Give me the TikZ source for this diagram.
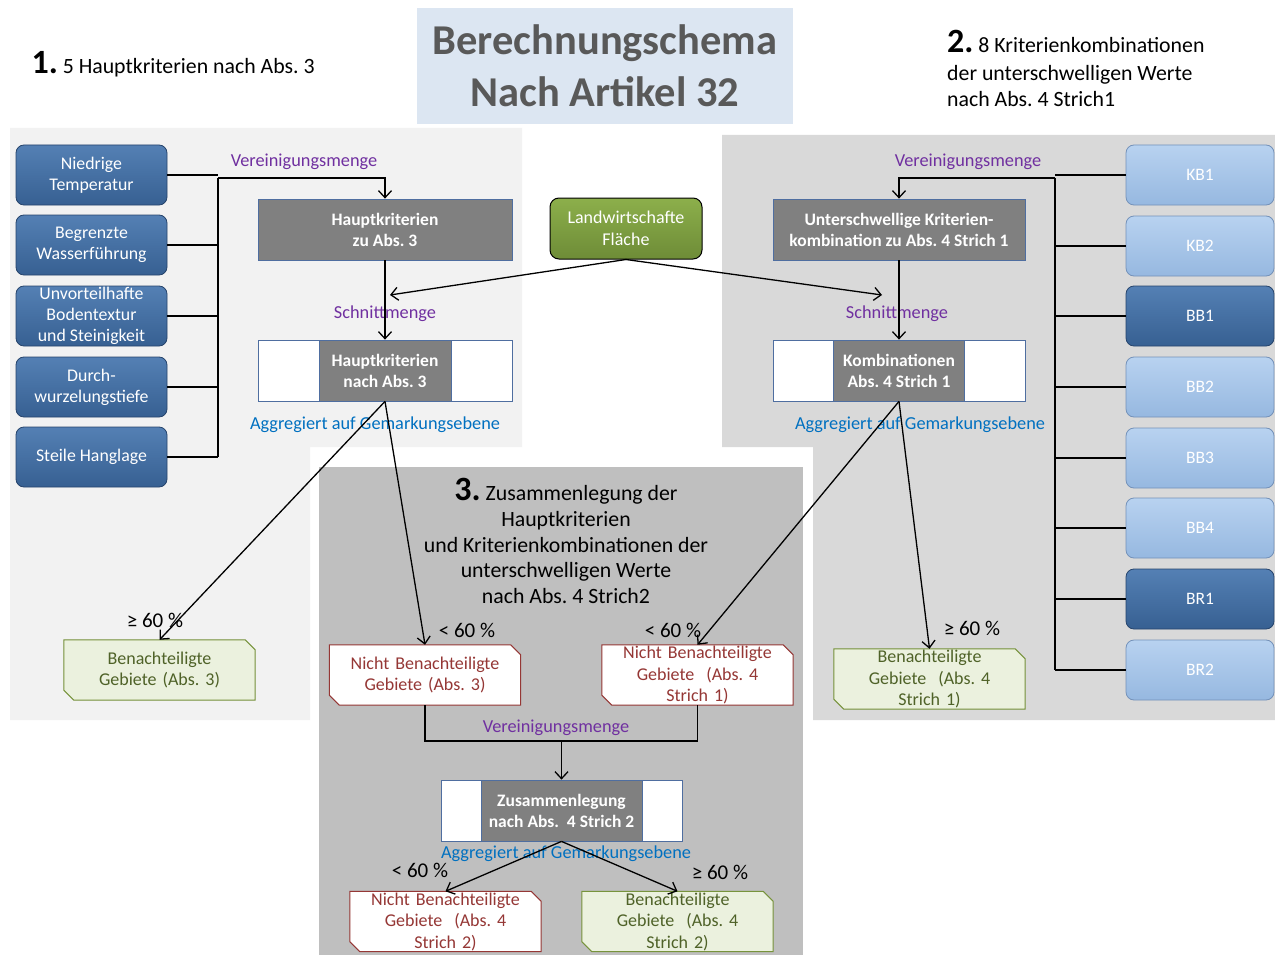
\documentclass[tikz,border=0pt]{standalone}
\usepackage{fontspec}
\setmainfont{Carlito}
\usetikzlibrary{arrows.meta,calc}
\pgfdeclarelayer{bg}\pgfdeclarelayer{mid}\pgfsetlayers{bg,mid,main}
\frenchspacing
\definecolor{panelL}{RGB}{242,242,242}
\definecolor{panelR}{RGB}{217,217,217}
\definecolor{panelM}{RGB}{191,191,191}
\definecolor{titleBg}{RGB}{220,230,242}
\definecolor{titleTx}{RGB}{89,89,89}
\definecolor{blueT}{RGB}{84,128,180}
\definecolor{blueB}{RGB}{55,96,146}
\definecolor{blueDk}{RGB}{38,68,108}
\definecolor{lblueT}{RGB}{184,210,240}
\definecolor{lblueB}{RGB}{150,184,224}
\definecolor{lblueDk}{RGB}{115,145,185}
\definecolor{grayC}{RGB}{128,128,128}
\definecolor{frameC}{RGB}{79,110,160}
\definecolor{greenT}{RGB}{140,175,75}
\definecolor{greenB}{RGB}{110,140,55}
\definecolor{purp}{RGB}{112,48,160}
\definecolor{blueTx}{RGB}{0,112,192}
\definecolor{redTx}{RGB}{149,55,53}
\definecolor{grnFill}{RGB}{235,241,222}
\definecolor{grnLine}{RGB}{119,147,60}
\definecolor{grnTx}{RGB}{79,98,40}
\newcommand\snipbox[3]{%
  \begin{pgfonlayer}{mid}
  \fill[black,opacity=0.25,shift={(2pt,-2pt)}] (#1.north west) -- ([xshift=-10pt]#1.north east) -- ([yshift=-10pt]#1.north east) -- (#1.south east) -- ([xshift=10pt]#1.south west) -- ([yshift=10pt]#1.south west) -- cycle;
  \filldraw[fill=#2,draw=#3,line width=1pt] (#1.north west) -- ([xshift=-10pt]#1.north east) -- ([yshift=-10pt]#1.north east) -- (#1.south east) -- ([xshift=10pt]#1.south west) -- ([yshift=10pt]#1.south west) -- cycle;
  \end{pgfonlayer}}
\begin{document}
\begin{tikzpicture}[x=1pt,y=-1pt,
  bluebox/.style={rounded corners=8pt, draw=blueDk, line width=0.8pt, top color=blueT, bottom color=blueB, text=white, minimum width=151pt, minimum height=60pt, align=center, inner sep=1pt, font=\fontsize{17.8}{21}\selectfont},
  lbox/.style={rounded corners=8pt, draw=lblueDk, line width=0.8pt, top color=lblueT, bottom color=lblueB, text=white, minimum width=148pt, minimum height=60pt, align=center, inner sep=1pt, font=\fontsize{17.5}{20}\selectfont},
  dbox/.style={lbox, draw=blueDk, top color=blueT, bottom color=blueB},
  graybox/.style={draw=frameC, fill=grayC, line width=0.8pt, text=white, minimum height=61pt, inner sep=0pt, align=center, font=\fontsize{17.5}{21}\selectfont\bfseries},
  framebox/.style={draw=frameC, fill=white, line width=0.8pt, minimum height=61pt, inner sep=0pt},
  snipn/.style={minimum width=191pt, minimum height=60pt, inner sep=0pt, align=center, text width=189pt, font=\fontsize{18}{21.5}\selectfont},
  lab/.style={font=\fontsize{18.3}{20}\selectfont},
  pct/.style={font=\fontsize{21}{22}\selectfont},
  arr/.style={-{Straight Barb[length=7pt,width=13pt]}, line width=1.3pt},
  ln/.style={line width=1.3pt}]
\useasboundingbox (0,0) rectangle (1275,955);
\begin{pgfonlayer}{bg}
  \fill[white] (0,0) rectangle (1275,955);
  \fill[panelL] (10,128) -- (522,128) -- (522,447) -- (310,447) -- (310,720) -- (10,720) -- cycle;
  \fill[panelR] (722,135) -- (1275,135) -- (1275,720) -- (813,720) -- (813,447) -- (722,447) -- cycle;
  \fill[panelM] (319,467) rectangle (803,955);
  \fill[titleBg] (417,8) rectangle (793,124);
\end{pgfonlayer}

% title and headings
\node[text=titleTx, font=\fontsize{42.5}{52}\selectfont\bfseries, align=center] (title) at (605,66) {Berechnungschema\\Nach Artikel 32};
\node[anchor=west, font=\fontsize{21.8}{22}\selectfont] (h1) at (28,64) {{\fontsize{34}{34}\selectfont\bfseries 1.} 5 Hauptkriterien nach Abs. 3};
\node[anchor=north west, align=left, font=\fontsize{21.8}{25.5}\selectfont, inner sep=0pt] (h2) at (947,30) {{\fontsize{34}{34}\selectfont\bfseries 2.} 8 Kriterienkombinationen\\[3pt]der unterschwelligen Werte\\nach Abs. 4 Strich1};
\node[align=center, font=\fontsize{21.8}{25.8}\selectfont, inner sep=0pt] (h3) at (566,541) {{\fontsize{34}{34}\selectfont\bfseries 3.} Zusammenlegung der\\Hauptkriterien\\und Kriterienkombinationen der\\unterschwelligen Werte\\nach Abs. 4 Strich2};

% left criteria
\node[bluebox] (n1) at (91.5,175) {Niedrige\\Temperatur};
\node[bluebox] (n2) at (91.5,245) {Begrenzte\\Wasserführung};
\node[bluebox] (n3) at (91.5,316) {Unvorteilhafte\\Bodentextur\\und Steinigkeit};
\node[bluebox] (n4) at (91.5,387) {Durch-\\wurzelungstiefe};
\node[bluebox] (n5) at (91.5,457) {Steile Hanglage};

% right combos
\node[lbox] (k1) at (1200,175) {KB1};
\node[lbox] (k2) at (1200,246) {KB2};
\node[dbox] (k3) at (1200,316) {BB1};
\node[lbox] (k4) at (1200,387) {BB2};
\node[lbox] (k5) at (1200,458) {BB3};
\node[lbox] (k6) at (1200,528) {BB4};
\node[dbox] (k7) at (1200,599) {BR1};
\node[lbox] (k8) at (1200,670) {BR2};

% central boxes
\node[graybox, minimum width=254pt] (hk) at (385,229.5) {Hauptkriterien\\zu Abs. 3};
\node[framebox, minimum width=254pt] (hnf) at (385,370.5) {};
\node[graybox, minimum width=132pt] (hn) at (385,370.5) {Hauptkriterien\\nach Abs. 3};
\node[graybox, minimum width=252pt] (uk) at (899,229.5) {Unterschwellige Kriterien-\\kombination zu Abs. 4 Strich 1};
\node[framebox, minimum width=252pt] (kbf) at (899,370.5) {};
\node[graybox, minimum width=131pt] (kb) at (899,370.5) {Kombinationen\\Abs. 4 Strich 1};
\node[rounded corners=9pt, draw=black, line width=1pt, top color=greenT, bottom color=greenB, text=white, minimum width=152pt, minimum height=61pt, align=center, font=\fontsize{18}{21.5}\selectfont] (lw) at (626,228.5) {Landwirtschafte\\Fläche};
\node[framebox, minimum width=241pt] (zlf) at (561.5,810.5) {};
\node[graybox, minimum width=161pt] (zl) at (561.5,810.5) {Zusammenlegung\\nach Abs.\ \ 4 Strich 2};

% result boxes
\node[snipn, text=grnTx] (b3) at (159.5,670) {Benachteiligte\\Gebiete (Abs. 3)};
\snipbox{b3}{grnFill}{grnLine}
\node[snipn, text=redTx] (nb3) at (425,675) {Nicht Benachteiligte\\Gebiete (Abs. 3)};
\snipbox{nb3}{white}{redTx}
\node[snipn, text=redTx] (nb4) at (697.5,675) {Nicht Benachteiligte\\Gebiete\ \ (Abs. 4\\Strich 1)};
\snipbox{nb4}{white}{redTx}
\node[snipn, text=grnTx] (b4) at (929.5,679) {Benachteiligte\\Gebiete\ \ (Abs. 4\\Strich 1)};
\snipbox{b4}{grnFill}{grnLine}
\node[snipn, text=redTx] (nb5) at (445.5,921.5) {Nicht Benachteiligte\\Gebiete\ \ (Abs. 4\\Strich 2)};
\snipbox{nb5}{white}{redTx}
\node[snipn, text=grnTx] (b5) at (677.5,921.5) {Benachteiligte\\Gebiete\ \ (Abs. 4\\Strich 2)};
\snipbox{b5}{grnFill}{grnLine}

% labels
\node[lab, text=purp] (v1) at (304,162) {Vereinigungsmenge};
\node[lab, text=purp] (v2) at (968,162) {Vereinigungsmenge};
\node[lab, text=purp] (v3) at (556,728) {Vereinigungsmenge};
\node[lab, text=purp] (s1) at (385,314) {Schnittmenge};
\node[lab, text=purp] (s2) at (897,314) {Schnittmenge};
\node[lab, text=blueTx] (a1) at (375,425) {Aggregiert auf Gemarkungsebene};
\node[lab, text=blueTx] (a2) at (920,425) {Aggregiert auf Gemarkungsebene};
\node[lab, text=blueTx] (a3) at (566,854) {Aggregiert auf Gemarkungsebene};
\node[pct] (p1) at (155,620) {≥ 60 \%};
\node[pct] (p2) at (467,630) {< 60 \%};
\node[pct] (p3) at (673,630) {< 60 \%};
\node[pct] (p4) at (972,628) {≥ 60 \%};
\node[pct] (p5) at (420,870) {< 60 \%};
\node[pct] (p6) at (720,872) {≥ 60 \%};

% left bracket
\coordinate (lt) at (218,178);
\coordinate (lb) at (218,457);
\draw[ln] (lt) -- (lb);
\foreach \n in {n1,n2,n3,n4,n5} \draw[ln] (\n.east) -- (\n.east -| lt);
\draw[arr] (lt) -| (hk.north);
\draw[arr] (hk.south) -- (hnf.north);

% right bracket
\coordinate (rt) at (1055,178);
\coordinate (rb) at (1055,670);
\draw[ln] (rt) -- (rb);
\foreach \n in {k1,k2,k3,k4,k5,k6,k7,k8} \draw[ln] (\n.west) -- (\n.west -| rt);
\draw[arr] (rt) -| (uk.north);
\draw[arr] (uk.south) -- (kbf.north);

% from Landwirtschaft
\coordinate (sl) at (390,295);
\coordinate (sr) at (882,295);
\draw[arr] (lw.south) -- (sl);
\draw[arr] (lw.south) -- (sr);

% to results
\draw[arr] (hn.south) -- (b3.north);
\draw[arr] (hn.south) -- (nb3.north);
\draw[arr] (kb.south) -- (nb4.north);
\draw[arr] (kb.south) -- (b4.north);

% union
\coordinate (vm) at (561.5,741);
\draw[ln] (nb3.south) -- (nb3.south |- vm) -- (nb4.south |- vm) -- (nb4.south);
\draw[arr] (vm) -- (zlf.north);
\draw[arr] (zl.south) -- (nb5.north);
\draw[arr] (zl.south) -- (b5.north);
\end{tikzpicture}
\end{document}
